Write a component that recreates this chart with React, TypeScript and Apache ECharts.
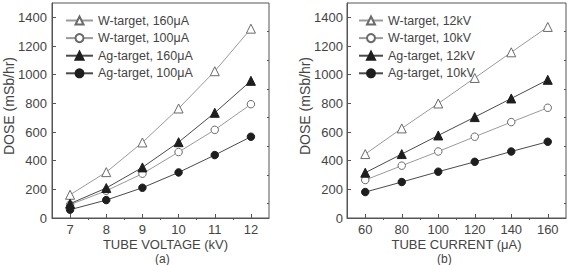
import React, { useEffect, useRef } from "react";
import * as echarts from "echarts";

const voltages = [7, 8, 9, 10, 11, 12];
const wTarget160uA = [162, 320, 527, 764, 1024, 1321];
const wTarget100uA = [93, 190, 309, 460, 615, 794];
const agTarget160uA = [100, 209, 353, 529, 734, 957];
const agTarget100uA = [58, 125, 211, 318, 439, 567];

const currents = [60, 80, 100, 120, 140, 160];
const wTarget12kV = [446, 625, 799, 977, 1156, 1333];
const wTarget10kV = [265, 365, 464, 567, 669, 769];
const agTarget12kV = [316, 446, 576, 704, 834, 964];
const agTarget10kV = [181, 251, 323, 392, 464, 532];

const doseTicks = [0, 200, 400, 600, 800, 1000, 1200, 1400];
const doseMinorTicks = [100, 300, 500, 700, 900, 1100, 1300];
const voltageTicks = [7, 8, 9, 10, 11, 12];
const voltageMinorTicks = [7.5, 8.5, 9.5, 10.5, 11.5];
const currentTicks = [60, 80, 100, 120, 140, 160];
const currentMinorTicks = [70, 90, 110, 130, 150];

const FONT = "'Liberation Sans', Arial, sans-serif";
const AXIS = "#555";
const TEXT = "#444";
const LIGHT = "#9a9a9a";
const DARK = "#4a4a4a";

const pairs = (xs: number[], ys: number[]) => xs.map((x, i) => [x, ys[i]]);

function mainAxis(
  gridIndex: number,
  min: number,
  max: number,
  ticks: number[],
  name: string,
  nameGap: number,
  isY: boolean,
  margin: number,
  padding?: number[]
) {
  return {
    type: "value",
    gridIndex,
    min,
    max,
    name,
    nameLocation: "middle",
    nameGap,
    nameMoveOverlap: false,
    nameTextStyle: {
      fontFamily: FONT,
      fontSize: isY ? 14 : 13,
      color: TEXT,
      padding: padding || 0,
    },
    axisLine: { show: true, lineStyle: { color: AXIS, width: 1 } },
    axisTick: {
      show: true,
      inside: true,
      length: 4,
      customValues: ticks,
      lineStyle: { color: AXIS },
    },
    axisLabel: {
      show: true,
      customValues: ticks,
      margin,
      fontFamily: FONT,
      fontSize: 13,
      color: TEXT,
      formatter: (v: number) => String(v),
    },
    splitLine: { show: false },
  };
}

function minorAxis(gridIndex: number, min: number, max: number, ticks: number[]) {
  return {
    type: "value",
    gridIndex,
    min,
    max,
    axisLine: { show: false },
    axisTick: {
      show: true,
      inside: true,
      length: 2,
      customValues: ticks,
      lineStyle: { color: AXIS },
    },
    axisLabel: { show: false },
    splitLine: { show: false },
  };
}

function series(
  name: string,
  xIndex: number,
  yIndex: number,
  data: number[][],
  symbol: string,
  filled: boolean
) {
  const lineColor = filled ? DARK : LIGHT;
  return {
    type: "line",
    name,
    xAxisIndex: xIndex,
    yAxisIndex: yIndex,
    data,
    symbol,
    symbolSize: symbol === "triangle" ? 9 : 7.5,
    lineStyle: { color: lineColor, width: 1 },
    itemStyle: filled
      ? { color: "#1e1e1e", borderColor: "#1e1e1e", borderWidth: 1 }
      : { color: "#ffffff", borderColor: "#6a6a6a", borderWidth: 1 },
    emphasis: { disabled: true },
    z: filled ? 3 : 2,
  };
}

function legend(left: number, itemWidth: number, names: string[]) {
  return {
    orient: "vertical",
    left,
    top: 9,
    itemWidth,
    itemHeight: 10,
    itemGap: 4.6,
    selectedMode: false,
    data: names,
    textStyle: {
      fontFamily: FONT,
      fontSize: 12.5,
      color: TEXT,
      lineHeight: 10,
    },
  };
}

export default function App() {
  const ref = useRef<HTMLDivElement>(null);

  useEffect(() => {
    if (!ref.current) return;
    const chart = echarts.init(ref.current, null, { renderer: "svg" });
    const leftNames = [
      "W-target, 160μA",
      "W-target, 100μA",
      "Ag-target, 160μA",
      "Ag-target, 100μA",
    ];
    const rightNames = [
      "W-target, 12kV",
      "W-target, 10kV",
      "Ag-target, 12kV",
      "Ag-target, 10kV",
    ];
    chart.setOption({
      animation: false,
      backgroundColor: "#ffffff",
      grid: [
        {
          left: 52,
          top: 3,
          width: 217,
          height: 215,
          show: true,
          borderColor: AXIS,
          borderWidth: 1,
          backgroundColor: "transparent",
          containLabel: false,
        },
        {
          left: 347,
          top: 3,
          width: 219,
          height: 215,
          show: true,
          borderColor: AXIS,
          borderWidth: 1,
          backgroundColor: "transparent",
          containLabel: false,
        },
      ],
      xAxis: [
        mainAxis(0, 6.5, 12.5, voltageTicks, "TUBE VOLTAGE (kV)", 19.5, false, 5, [0, 0, 0, 10]),
        mainAxis(1, 50, 170, currentTicks, "TUBE CURRENT (μA)", 19.5, false, 5),
        minorAxis(0, 6.5, 12.5, voltageMinorTicks),
        minorAxis(1, 50, 170, currentMinorTicks),
      ],
      yAxis: [
        mainAxis(0, 0, 1500, doseTicks, "DOSE (mSb/hr)", 36, true, 5, [0, 0, 0, 9]),
        mainAxis(1, 0, 1500, doseTicks, "DOSE (mSb/hr)", 35, true, 4, [0, 0, 0, 9]),
        minorAxis(0, 0, 1500, doseMinorTicks),
        minorAxis(1, 0, 1500, doseMinorTicks),
      ],
      legend: [legend(60, 27, leftNames), legend(353, 24, rightNames)],
      series: [
        series(leftNames[0], 0, 0, pairs(voltages, wTarget160uA), "triangle", false),
        series(leftNames[1], 0, 0, pairs(voltages, wTarget100uA), "circle", false),
        series(leftNames[2], 0, 0, pairs(voltages, agTarget160uA), "triangle", true),
        series(leftNames[3], 0, 0, pairs(voltages, agTarget100uA), "circle", true),
        series(rightNames[0], 1, 1, pairs(currents, wTarget12kV), "triangle", false),
        series(rightNames[1], 1, 1, pairs(currents, wTarget10kV), "circle", false),
        series(rightNames[2], 1, 1, pairs(currents, agTarget12kV), "triangle", true),
        series(rightNames[3], 1, 1, pairs(currents, agTarget10kV), "circle", true),
      ],
      graphic: [
        {
          type: "text",
          left: 155,
          top: 252.5,
          style: { text: "(a)", fontFamily: FONT, fontSize: 12, fill: TEXT },
        },
        {
          type: "text",
          left: 437,
          top: 252.5,
          style: { text: "(b)", fontFamily: FONT, fontSize: 12, fill: TEXT },
        },
      ],
    });
    return () => chart.dispose();
  }, []);

  return <div ref={ref} style={{ width: 567, height: 265, position: "absolute", left: 0, top: 0 }} />;
}
